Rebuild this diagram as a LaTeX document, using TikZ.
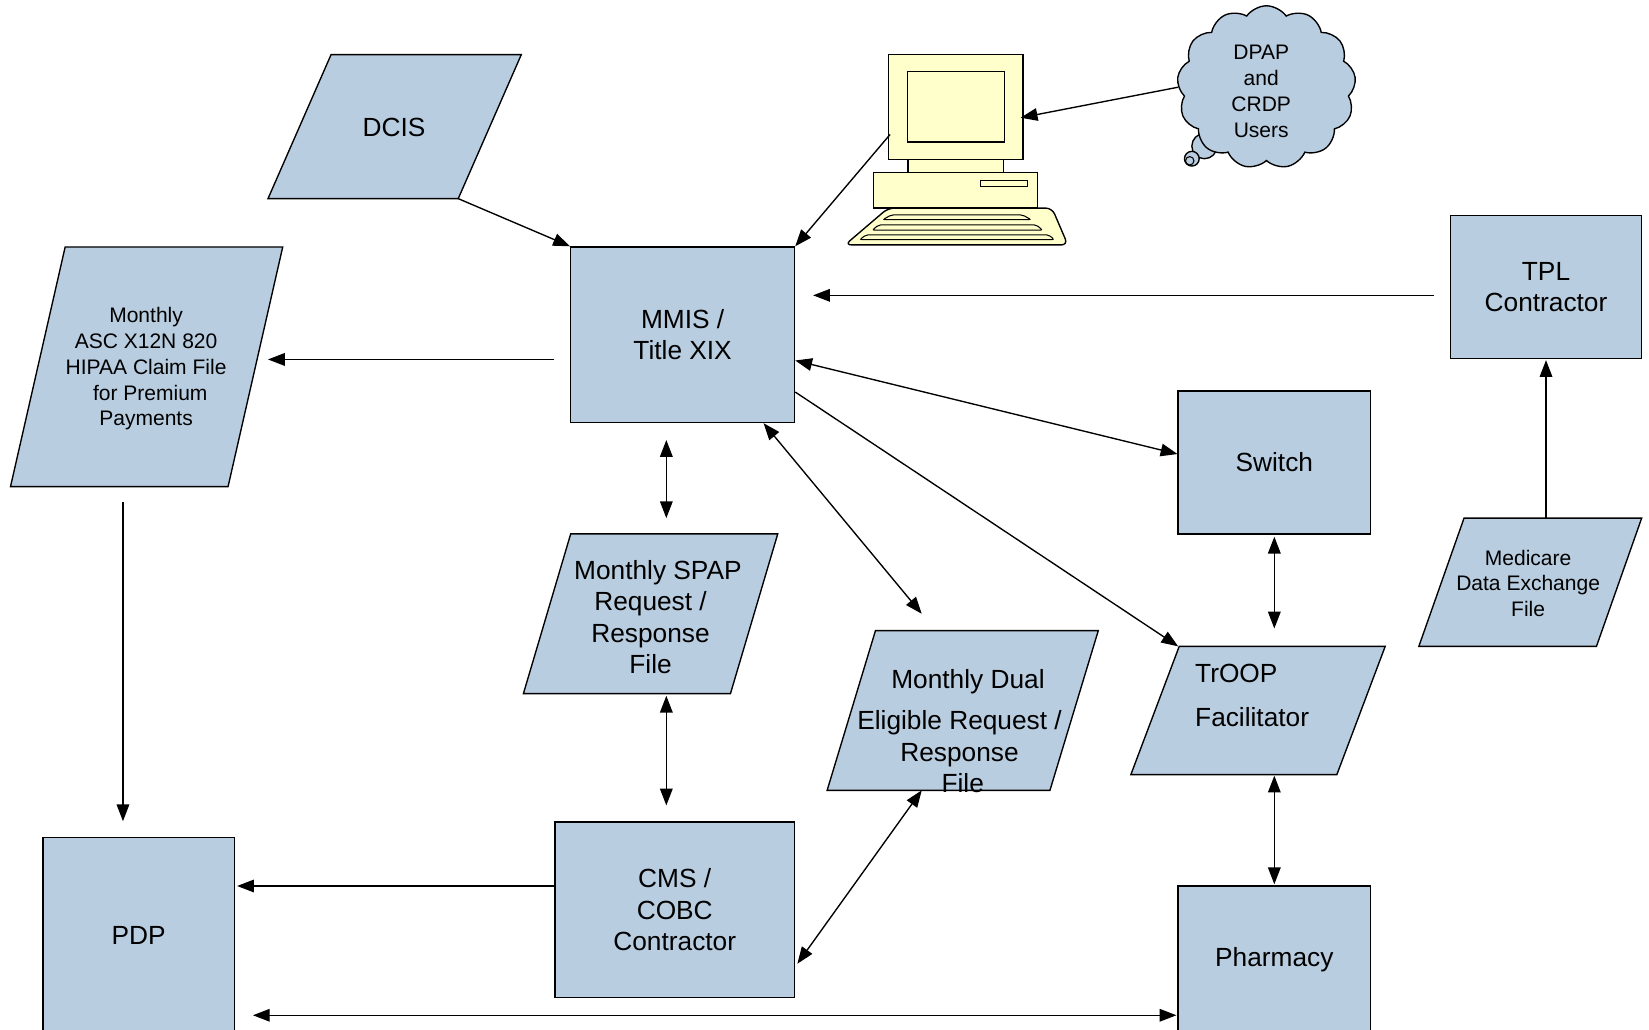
\documentclass[tikz,border=0pt]{standalone}
\usepackage{fontspec}
\setmainfont{Liberation Sans}
\usetikzlibrary{arrows.meta,shapes.symbols}
\definecolor{boxblue}{HTML}{B9CDE0}
\definecolor{compyellow}{HTML}{FFFFCC}
\tikzset{
 box/.style={draw=black, line width=1.3pt, fill=boxblue, rectangle, inner sep=0pt},
 frame/.style={rectangle, inner sep=0pt, outer sep=0pt},
 parafill/.style={draw=black, line width=1.3pt, fill=boxblue},
 bigtxt/.style={font=\fontsize{25}{30}\selectfont, align=center, inner sep=0pt},
 smalltxt/.style={font=\fontsize{20}{24.5}\selectfont, align=center, inner sep=0pt},
 arr/.style={line width=1.3pt, -{Triangle[length=16pt,width=12pt]}},
 arr2/.style={line width=1.3pt, {Triangle[length=16pt,width=12pt]}-{Triangle[length=16pt,width=12pt]}},
 comp/.style={draw=black, line width=1.3pt, fill=compyellow},
 keyrow/.style={draw=black, line width=1pt, fill=compyellow, rounded corners=2pt},
}
\newcommand{\parashape}[2]{% node name, slant
  \draw[parafill] ([xshift=#2pt]#1.north west) -- (#1.north east) -- ([xshift=-#2pt]#1.south east) -- (#1.south west) -- cycle;}
\begin{document}
\begin{tikzpicture}[x=1pt,y=-1pt]
\useasboundingbox (0,0) rectangle (1569,980);
\clip (0,0) rectangle (1569,980);

% parallelograms (frames + outlines)
\node[frame, minimum width=241pt, minimum height=137pt] (dcis) at (375.5,120.5) {};
\parashape{dcis}{60}
\node[bigtxt] (dcistxt) at (375,121) {DCIS};

\node[frame, minimum width=259pt, minimum height=228pt] (asc) at (139.5,349) {};
\parashape{asc}{52}
\node[smalltxt] (asctxt) at (139,351) {Monthly\\ASC X12N 820\\HIPAA Claim File\\\hspace*{8pt}for Premium\\Payments};

\node[frame, minimum width=242pt, minimum height=152pt] (spap) at (619,584) {};
\parashape{spap}{45}
\node[bigtxt] (spaptxt) at (619,587) {\hspace*{14pt}Monthly SPAP\\Request /\\Response\\File};

\node[frame, minimum width=258pt, minimum height=152pt] (dual) at (916,676) {};
\parashape{dual}{46}
\node[bigtxt] (dualtxt) at (913,696) {\hspace*{16pt}Monthly Dual\\[9pt]Eligible Request /\\Response\\\hspace*{6pt}File};

\node[frame, minimum width=242pt, minimum height=122pt] (troop) at (1197,676) {};
\parashape{troop}{46}
\node[font=\fontsize{25}{42}\selectfont, align=left, inner sep=0pt, anchor=west] (trooptxt) at (1137,662) {TrOOP\\Facilitator};

\node[frame, minimum width=212pt, minimum height=122pt] (med) at (1456,554) {};
\parashape{med}{43}
\node[smalltxt] (medtxt) at (1454,555) {Medicare\\Data Exchange\\File};

% rectangles
\node[box, bigtxt, minimum width=213pt, minimum height=167pt] (mmis) at (649.5,318.5) {MMIS /\\Title XIX};
\node[box, bigtxt, minimum width=182pt, minimum height=136pt] (tpl) at (1471,273) {TPL\\Contractor};
\node[box, bigtxt, minimum width=183pt, minimum height=136pt] (switch) at (1212.5,440) {Switch};
\node[box, bigtxt, minimum width=228pt, minimum height=167pt] (cms) at (642,865.5) {CMS /\\COBC\\Contractor};
\node[box, bigtxt, minimum width=182pt, minimum height=186pt] (pdp) at (132,890) {PDP};
\node[box, bigtxt, minimum width=183pt, minimum height=140pt] (pharm) at (1212.5,913) {Pharmacy};

% computer
\draw[comp, rounded corners=6pt] (845,198) -- (1001,198) -- (1016,233) -- (804,233) -- cycle;
\draw[keyrow] (848,204.5) -- (973,204.5) -- (981,209) -- (840,209) -- cycle;
\draw[keyrow] (836,214) -- (986,214) -- (992,219) -- (830,219) -- cycle;
\draw[keyrow] (824,223.5) -- (998,223.5) -- (1003,228) -- (818,228) -- cycle;
\draw[comp] (831,164) rectangle (987,198);
\draw[comp, line width=1pt] (933,172) rectangle (978,177);
\draw[comp] (864,152) rectangle (955,164);
\node[comp, rectangle, inner sep=0pt, minimum width=128pt, minimum height=100pt] (mon) at (909.5,102) {};
\node[comp, rectangle, inner sep=0pt, minimum width=92pt, minimum height=67pt] (scr) at (909.5,101.5) {};

% cloud
\draw[draw=black, line width=1.3pt, fill=boxblue] (1146,139) circle [radius=12pt];
\draw[draw=black, line width=1.3pt, fill=boxblue] (1134,151) circle [radius=7pt];
\draw[draw=black, line width=1pt] (1132,153) circle [radius=4pt];
\node[cloud, cloud puffs=13, cloud puff arc=110, cloud ignores aspect, minimum width=170pt, minimum height=155pt, draw=black, line width=1.3pt, fill=boxblue, inner sep=0pt] (cloud) at (1205,83) {};
\node[smalltxt] (cloudtxt) at (1200,87) {DPAP\\and\\CRDP\\Users};

% connectors
\draw[arr] ([xshift=-60pt]dcis.south east) -- (mmis.north west);
\draw[arr] ([xshift=2pt,yshift=-26pt]mon.west) -- (mmis.north east);
\draw[arr] (cloud.west) -- ([xshift=-3pt,yshift=-10pt]mon.east);

\coordinate (a4s) at ([xshift=-15pt,yshift=-23.5pt]mmis.west);
\draw[arr, shorten >=-14pt] (a4s) -- (a4s -| asc.east);

\coordinate (a5s) at ([xshift=-15pt,yshift=-8pt]tpl.west);
\draw[arr, shorten >=17pt] (a5s) -- (a5s -| mmis.east);

\draw[arr2] ([yshift=-24.5pt]mmis.east) -- ([yshift=8pt]switch.west);
\draw[arr] ([yshift=-54.5pt]mmis.east) -- ([xshift=45pt]troop.north west);
\draw[arr2] ([xshift=77pt]mmis.south) -- ([xshift=90pt,yshift=16pt]dual.north west);

\coordinate (a9s) at ([xshift=-15.5pt,yshift=-16pt]mmis.south);
\draw[arr2, shorten >=15pt] (a9s) -- (a9s |- spap.north);

\coordinate (a10s) at ([xshift=-8pt,yshift=15pt]cms.north);
\draw[arr2, shorten <=2pt] (a10s |- spap.south) -- (a10s);

\draw[arr2] ([xshift=90pt]dual.south west) -- ([xshift=2pt,yshift=-51.5pt]cms.east);

\coordinate (a12s) at ([yshift=22.5pt]cms.west);
\draw[arr, shorten >=2pt] (a12s) -- (a12s -| pdp.east);

\coordinate (a13s) at ([xshift=-22.5pt,yshift=-15pt]asc.south);
\draw[arr, shorten >=15pt] (a13s) -- (a13s |- pdp.north);

\coordinate (a14s) at ([xshift=17pt,yshift=-76pt]pdp.east);
\draw[arr2, shorten >=1pt] (a14s) -- (a14s -| pharm.west);

\draw[arr2, shorten <=2pt, shorten >=17pt] (switch.south) -- (switch.south |- troop.north);
\draw[arr2, shorten <=1pt, shorten >=1pt] (pharm.north |- troop.south) -- (pharm.north);
\draw[arr, shorten >=1pt] (tpl.south |- med.north) -- (tpl.south);
\end{tikzpicture}
\end{document}
